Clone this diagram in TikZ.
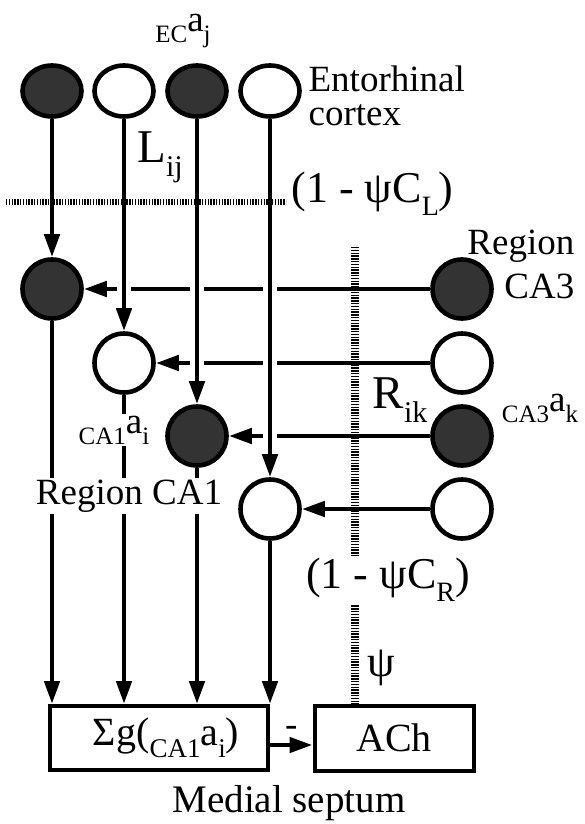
\documentclass[tikz,border=0pt]{standalone}
\usepackage{fontspec}
\setmainfont{Liberation Serif}
\usetikzlibrary{positioning, arrows.meta, shapes.geometric}
\newcommand{\subtx}[2][25]{\raisebox{-0.3em}{\fontsize{#1}{#1}\selectfont #2}}
\tikzset{
  ecunit/.style={ellipse, draw, minimum width=59pt, minimum height=51pt, inner sep=0pt},
  unit/.style={circle, draw, minimum size=59pt, inner sep=0pt},
  firing/.style={fill=black!80},
  dotline/.style={line width=6pt, dash pattern=on 1.4pt off 1.4pt},
  gap/.style={preaction={draw=white, line width=14pt, -}},
  cover/.style={fill=white, inner sep=2pt},
  bigtxt/.style={font=\fontsize{47}{47}\selectfont},
  midtxt/.style={font=\fontsize{44}{44}\selectfont},
  boxtxt/.style={font=\fontsize{40}{40}\selectfont},
}

\begin{document}
\begin{tikzpicture}[x=1pt, y=-1pt, line width=4.6pt, >={Triangle[length=23pt, width=15pt]}, font=\fontsize{37}{40}\selectfont]
  \useasboundingbox (0,0) rectangle (584,824);
  % entorhinal cortex
  \node[ecunit, firing] (ec1) at (52,91) {};
  \node[ecunit] (ec2) at (124,91) {};
  \node[ecunit, firing] (ec3) at (197,91) {};
  \node[ecunit] (ec4) at (270,91) {};
  % region CA1
  \node[unit, firing] (c1) at (52,289) {};
  \node[unit] (c2) at (124,363) {};
  \node[unit, firing] (c3) at (197,436) {};
  \node[unit] (c4) at (270,509) {};
  % region CA3
  \node[unit, firing] (k1) at (462,289) {};
  \node[unit] (k2) at (462,363) {};
  \node[unit, firing] (k3) at (462,436) {};
  \node[unit] (k4) at (462,509) {};
  % medial septum
  \node[draw, line width=4pt, boxtxt, minimum width=218pt, minimum height=64pt, inner sep=0pt] (sbox) at (159,738) {\hspace{14pt}Σg(\subtx[27]{CA1}a\subtx[27]{i})};
  \node[draw, line width=4pt, boxtxt, minimum width=159pt, minimum height=65pt, inner sep=0pt] (ach) at (394,738) {ACh};

  % recurrent CA3 -> CA1
  \draw[->] (k1) -- (c1);
  \draw[->] (k2) -- (c2);
  \draw[->] (k3) -- (c3);
  \draw[->] (k4) -- (c4);
  % EC -> CA1
  \draw[->, gap] (ec1) -- (c1);
  \draw[->, gap] (ec2) -- (c2);
  \draw[->, gap] (ec3) -- (c3);
  \draw[->, gap] (ec4) -- (c4);
  % CA1 -> septum
  \draw[->] (c1) -- (c1 |- sbox.north);
  \draw[->] (c2) -- (c2 |- sbox.north);
  \draw[->] (c3) -- (c3 |- sbox.north);
  \draw[->] (c4) -- (c4 |- sbox.north);
  \coordinate (mid) at (0,745);
  \draw[->] (sbox.east |- mid) -- (ach.west |- mid) node[midway, above=6pt, inner sep=0pt] (neg) {-};

  % cholinergic suppression
  \node[midtxt, anchor=west] (cl) at (286,194) {(1 - ψC\subtx[28]{L})};
  \coordinate (ltail) at (6,202);
  \draw[dotline] (ltail) -- (ltail -| cl.west);
  \coordinate (rtop) at (355,247);
  \draw[dotline, line width=8pt] (rtop) -- (rtop |- ach.north);
  \node[midtxt, cover] (cr) at (388,580) {(1 - ψC\subtx[28]{R})};
  \node[midtxt] (psi) at (381,668) {ψ};

  % labels
  \node (eca) at (183,31) {\subtx{EC}a\subtx{j}};
  \node[anchor=north west, align=left, font=\fontsize{37}{34}\selectfont] (ent) at (303,60) {Entorhinal\\cortex};
  \node[bigtxt] (lij) at (160,157) {L\subtx[30]{ij}};
  \node[anchor=east, align=right, font=\fontsize{37}{44}\selectfont] (reg3) at (580,264) {Region\\CA3};
  \node[bigtxt] (rik) at (400,400) {R\subtx[30]{ik}};
  \node (ca3a) at (540,408) {\subtx{CA3}a\subtx{k}};
  \node[cover] (ca1a) at (114,430) {\subtx{CA1}a\subtx{i}};
  \node[cover] (reg1) at (129,496) {Region CA1};
  \node[font=\fontsize{39}{40}\selectfont] (ms) at (289,803) {Medial septum};
\end{tikzpicture}
\end{document}
